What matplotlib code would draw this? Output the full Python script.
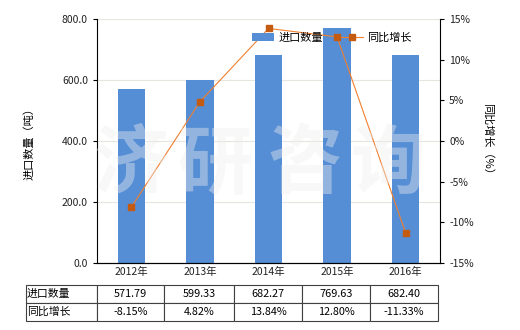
import matplotlib
matplotlib.use('Agg')
import matplotlib.pyplot as plt
import numpy as np

plt.rcParams['font.family'] = ['Noto Sans CJK SC', 'DejaVu Sans']

years = ['2012年', '2013年', '2014年', '2015年', '2016年']
imports = [571.79, 599.33, 682.27, 769.63, 682.40]
growth = [-8.15, 4.82, 13.84, 12.80, -11.33]
row_labels = ['进口数量', '同比增长']

fig = plt.figure(figsize=(5.2, 3.3), dpi=100)
ax = fig.add_axes([97/520, 1 - 263/330, 343/520, 244/330])
x = np.arange(len(years))

bars = ax.bar(x, imports, width=0.4, color='#558ED5', label='进口数量', zorder=2)
ax.set_ylim(0, 800)
ax.set_xlim(-0.5, 4.5)
ax.set_yticks(np.arange(0, 801, 200))
ax.set_yticklabels([f'{v:.1f}' for v in np.arange(0, 801, 200)], fontsize=7.5, color='#222')
ax.yaxis.grid(True, color='#E6E6DE', linewidth=0.8, zorder=0)
ax.set_xticks(x)
ax.set_xticklabels(years, fontsize=7.5, color='#222')
ax.tick_params(axis='x', length=0, pad=3)
ax.tick_params(axis='y', length=3, width=0.8)
ax.spines['top'].set_visible(False)
ax.spines['right'].set_visible(False)
ax.set_ylabel('进口数量（吨）', fontsize=8, labelpad=20)

ax2 = ax.twinx()
ln, = ax2.plot(x, growth, color='#F07F2F', linewidth=0.8, marker='s', markersize=4.3,
               markerfacecolor='#C55A11', markeredgecolor='#C55A11', label='同比增长', zorder=3)
ax2.set_ylim(-15, 15)
ax2.set_yticks(np.arange(-15, 16, 5))
ax2.set_yticklabels([f'{v}%' for v in range(-15, 16, 5)], fontsize=7.5, color='#222')
ax2.tick_params(axis='y', length=3, width=0.8)
ax2.spines['top'].set_visible(False)
ax2.spines['left'].set_visible(False)
ax2.set_ylabel('同比增长（%）', fontsize=8, rotation=-90, labelpad=14)

# watermark
for ch, cx in zip('济研咨询', [131, 215, 305, 388]):
    fig.text(cx / 520, 1 - 165 / 330, ch, ha='center', va='center', fontsize=54,
             color='#EEEEEE', alpha=0.4, fontweight='bold', zorder=10)

leg = ax2.legend([bars, ln], ['进口数量', '同比增长'], loc='upper center',
                 bbox_to_anchor=(0.685, 0.985), ncol=2, frameon=False, fontsize=8,
                 handlelength=2.0, columnspacing=1.6, handletextpad=0.4)

# data table
cells = [[f'{v:.2f}' for v in imports], [f'{v:.2f}%' for v in growth]]
tb = ax.table(cellText=[[row_labels[i]] + cells[i] for i in range(2)],
              bbox=[-71/343, -58/244, 1 + 71/343 - 2/343, 36/244], cellLoc='center')
tb.auto_set_font_size(False)
tb.set_fontsize(7.8)
widths = [71] + [67, 70, 68, 68, 68]
tot = sum(widths)
for (r, c), cell in tb.get_celld().items():
    cell.set_edgecolor('#404040')
    cell.set_linewidth(0.8)
    cell.set_width(widths[c] / tot)
    if c == 0:
        cell._loc = 'left'
        cell.PAD = 0.01
        cell.get_text().set_ha('left')

plt.savefig('out.png', dpi=100, facecolor='white')
